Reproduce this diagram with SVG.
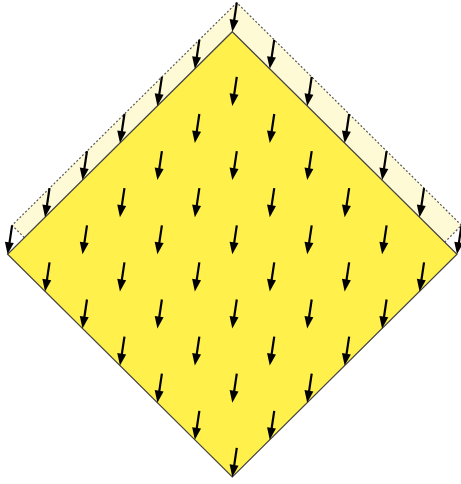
<svg xmlns="http://www.w3.org/2000/svg" xmlns:xlink="http://www.w3.org/1999/xlink" width="461" height="484" viewBox="0 0 461 484">
<style>
.band{fill:#FFFAD6;stroke:none}
.dot{fill:none;stroke:#555;stroke-width:1.2;stroke-dasharray:2,2}
.dia{fill:#FFF04B;stroke:#444;stroke-width:1.2}
.sh{stroke:#000;stroke-width:2.2;fill:none}
.hd{fill:#000}
</style>
<defs>
<g id="arr"><line class="sh" x1="4.5" y1="-29" x2="1.8" y2="-11"/><path class="hd" d="M0,0 L-2.7,-12.6 L6.2,-11.2 Z"/></g>
</defs>
<rect width="461" height="484" fill="#fff"/>
<g id="inflow">
<polygon class="band" points="24.37,237.69 12.1,225.3 236.8,2.7 461.5,225.3 444.77,242.19 232.3,31.7"/>
<path class="dot" d="M24.37,237.69 L12.1,225.3 L236.8,2.7 L461.5,225.3 L444.77,242.19"/>
</g>
<g id="square">
<polygon class="dia" points="232.3,31.7 457,254.3 232.3,476.9 7.6,254.3"/>
</g>
<g id="arrows">
<use xlink:href="#arr" x="232.3" y="31.7"/>
<use xlink:href="#arr" x="194.85" y="68.8"/><use xlink:href="#arr" x="269.75" y="68.8"/>
<use xlink:href="#arr" x="157.4" y="105.9"/><use xlink:href="#arr" x="232.3" y="105.9"/><use xlink:href="#arr" x="307.2" y="105.9"/>
<use xlink:href="#arr" x="119.95" y="143"/><use xlink:href="#arr" x="194.85" y="143"/><use xlink:href="#arr" x="269.75" y="143"/><use xlink:href="#arr" x="344.65" y="143"/>
<use xlink:href="#arr" x="82.5" y="180.1"/><use xlink:href="#arr" x="157.4" y="180.1"/><use xlink:href="#arr" x="232.3" y="180.1"/><use xlink:href="#arr" x="307.2" y="180.1"/><use xlink:href="#arr" x="382.1" y="180.1"/>
<use xlink:href="#arr" x="45.05" y="217.2"/><use xlink:href="#arr" x="119.95" y="217.2"/><use xlink:href="#arr" x="194.85" y="217.2"/><use xlink:href="#arr" x="269.75" y="217.2"/><use xlink:href="#arr" x="344.65" y="217.2"/><use xlink:href="#arr" x="419.55" y="217.2"/>
<use xlink:href="#arr" x="7.6" y="254.3"/><use xlink:href="#arr" x="82.5" y="254.3"/><use xlink:href="#arr" x="157.4" y="254.3"/><use xlink:href="#arr" x="232.3" y="254.3"/><use xlink:href="#arr" x="307.2" y="254.3"/><use xlink:href="#arr" x="382.1" y="254.3"/><use xlink:href="#arr" x="457" y="254.3"/>
<use xlink:href="#arr" x="45.05" y="291.4"/><use xlink:href="#arr" x="119.95" y="291.4"/><use xlink:href="#arr" x="194.85" y="291.4"/><use xlink:href="#arr" x="269.75" y="291.4"/><use xlink:href="#arr" x="344.65" y="291.4"/><use xlink:href="#arr" x="419.55" y="291.4"/>
<use xlink:href="#arr" x="82.5" y="328.5"/><use xlink:href="#arr" x="157.4" y="328.5"/><use xlink:href="#arr" x="232.3" y="328.5"/><use xlink:href="#arr" x="307.2" y="328.5"/><use xlink:href="#arr" x="382.1" y="328.5"/>
<use xlink:href="#arr" x="119.95" y="365.6"/><use xlink:href="#arr" x="194.85" y="365.6"/><use xlink:href="#arr" x="269.75" y="365.6"/><use xlink:href="#arr" x="344.65" y="365.6"/>
<use xlink:href="#arr" x="157.4" y="402.7"/><use xlink:href="#arr" x="232.3" y="402.7"/><use xlink:href="#arr" x="307.2" y="402.7"/>
<use xlink:href="#arr" x="194.85" y="439.8"/><use xlink:href="#arr" x="269.75" y="439.8"/>
<use xlink:href="#arr" x="232.3" y="476.9"/>
</g>
</svg>
